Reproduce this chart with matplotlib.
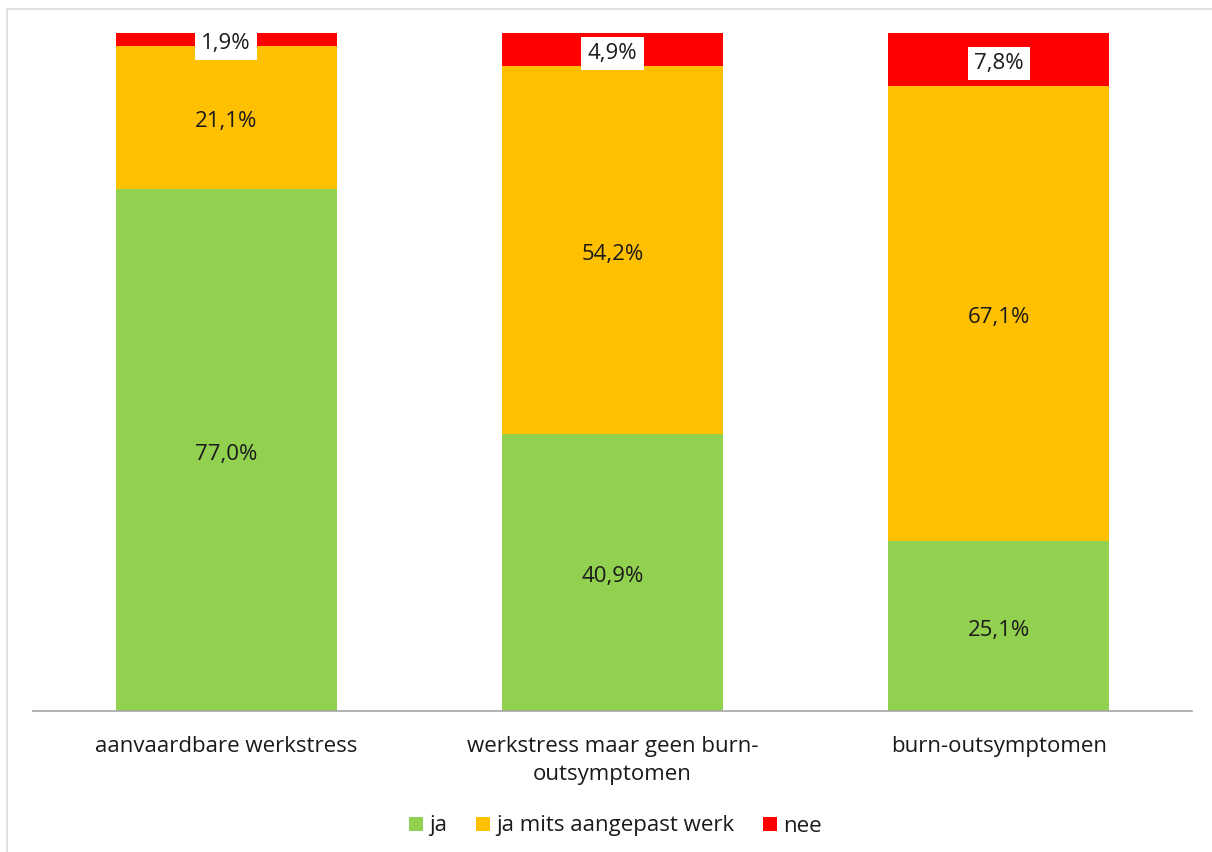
import matplotlib.pyplot as plt
import numpy as np
from matplotlib.patches import Rectangle

plt.rcParams['font.family'] = ['Open Sans', 'DejaVu Sans']

categories = ['aanvaardbare werkstress',
              'werkstress maar geen burn-\noutsymptomen',
              'burn-outsymptomen']
series_names = ['ja', 'ja mits aangepast werk', 'nee']
ja = [77.0, 40.9, 25.1]
ja_mits = [21.1, 54.2, 67.1]
nee = [1.9, 4.9, 7.8]
colors = ['#92D050', '#FFC000', '#FF0000']
text_color = '#1a1a1a'
fs = 16

fig = plt.figure(figsize=(12.12, 8.52), dpi=100)
ax = fig.add_axes([0.0272, 0.1655, 0.9563, 0.7958])

# light frame round the chart area
fig.patches.append(Rectangle((7 / 1212, -0.1), 1.2, (852 - 9) / 852 + 0.1,
                             transform=fig.transFigure, fill=False,
                             edgecolor='#d9d9d9', linewidth=1.2))

x = np.arange(len(categories))
bottom = np.zeros(len(categories))
for name, vals, col in zip(series_names, [ja, ja_mits, nee], colors):
    vals = np.array(vals)
    ax.bar(x, vals, width=0.572, bottom=bottom, color=col, label=name)
    for xi, b, v in zip(x, bottom, vals):
        txt = f'{v:.1f}%'.replace('.', ',')
        kw = {}
        if name == 'nee':
            kw['bbox'] = dict(facecolor='white', edgecolor='none', pad=4.5)
        ax.annotate(txt, (xi, b + v / 2), xytext=(0, -3),
                    textcoords='offset points', ha='center', va='center',
                    fontsize=fs, color=text_color, **kw)
    bottom += vals

ax.set_xlim(-0.5, 2.5)
ax.set_ylim(0, 100)
ax.set_yticks([])
ax.set_xticks(x)
ax.set_xticklabels(categories, fontsize=fs, color=text_color, linespacing=1.45)
ax.tick_params(axis='x', length=0, pad=18)
for s in ['top', 'right', 'left']:
    ax.spines[s].set_visible(False)
ax.spines['bottom'].set_color('#a6a6a6')
ax.spines['bottom'].set_linewidth(1.2)

fig.legend(loc='center', bbox_to_anchor=(0.508, 1 - 826 / 852), ncol=3,
           frameon=False, fontsize=fs, handlelength=0.6, handleheight=0.6,
           handletextpad=0.3, columnspacing=1.3, labelcolor=text_color)

fig.savefig('out.png', dpi=100)
